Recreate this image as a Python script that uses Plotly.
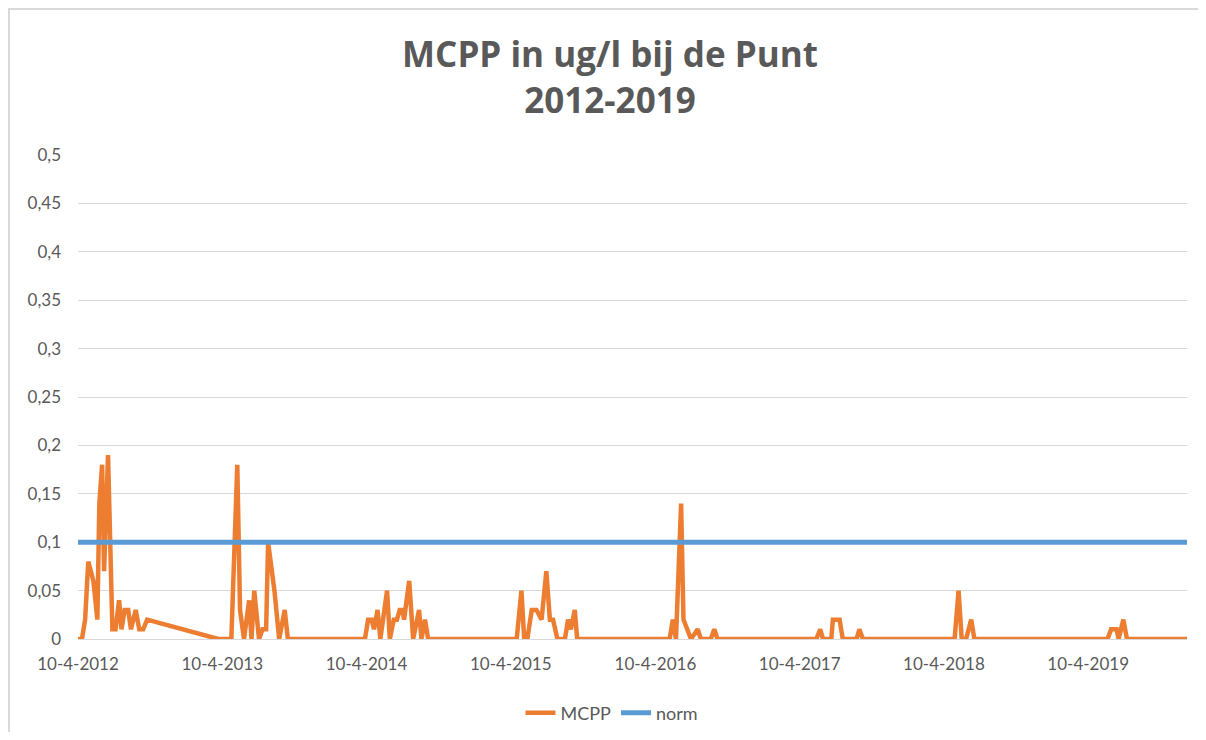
import plotly.graph_objects as go

# MCPP measurements (ug/l)
mcpp_dates = [
    "2012-04-10", "2012-04-20", "2012-04-28", "2012-05-06", "2012-05-19", "2012-05-29",
    "2012-06-03", "2012-06-10", "2012-06-15", "2012-06-25", "2012-07-06", "2012-07-14",
    "2012-07-23", "2012-07-29", "2012-08-06", "2012-08-15", "2012-08-22", "2012-09-03",
    "2012-09-12", "2012-09-22", "2012-10-02",
    "2013-03-31", "2013-05-03", "2013-05-18", "2013-05-25", "2013-06-04", "2013-06-17",
    "2013-06-23", "2013-06-30", "2013-07-12", "2013-07-21", "2013-07-30", "2013-08-04",
    "2013-08-13", "2013-08-20", "2013-09-01", "2013-09-15", "2013-09-23",
    "2014-04-06", "2014-04-14", "2014-04-23", "2014-04-29", "2014-05-08", "2014-05-15",
    "2014-06-01", "2014-06-08", "2014-06-18", "2014-06-26", "2014-07-03", "2014-07-10",
    "2014-07-14", "2014-07-27", "2014-08-06", "2014-08-21", "2014-08-27", "2014-09-05",
    "2014-09-13",
    "2015-04-25", "2015-05-07", "2015-05-14", "2015-05-22", "2015-06-02", "2015-06-14",
    "2015-06-27", "2015-07-09", "2015-07-18", "2015-07-26", "2015-08-06", "2015-08-25",
    "2015-09-02", "2015-09-09", "2015-09-19", "2015-09-25",
    "2016-05-16", "2016-05-24", "2016-06-01", "2016-06-14", "2016-06-20", "2016-06-30",
    "2016-07-09", "2016-07-26", "2016-08-03", "2016-08-28", "2016-09-06", "2016-09-14",
    "2017-05-22", "2017-06-01", "2017-06-08", "2017-06-29", "2017-07-03", "2017-07-20",
    "2017-07-28", "2017-09-01", "2017-09-08", "2017-09-17",
    "2018-05-07", "2018-05-17", "2018-05-25", "2018-06-05", "2018-06-18", "2018-06-26",
    "2019-05-29", "2019-06-07", "2019-06-14", "2019-06-21", "2019-06-26", "2019-07-08",
    "2019-07-17", "2019-12-16",
]
mcpp_values = [
    0, 0, 0.02, 0.08, 0.06, 0.02,
    0.14, 0.18, 0.07, 0.19, 0.01, 0.01,
    0.04, 0.01, 0.03, 0.03, 0.01, 0.03,
    0.01, 0.01, 0.02,
    0, 0, 0.18, 0.03, 0, 0.04,
    0, 0.05, 0, 0.01, 0.01, 0.10,
    0.07, 0.05, 0, 0.03, 0,
    0, 0.02, 0.02, 0.01, 0.03, 0,
    0.05, 0, 0.02, 0.02, 0.03, 0.03,
    0.02, 0.06, 0, 0.03, 0, 0.02,
    0,
    0, 0.05, 0, 0, 0.03, 0.03,
    0.02, 0.07, 0.02, 0.02, 0, 0,
    0.02, 0.01, 0.03, 0,
    0, 0.02, 0, 0.14, 0.02, 0.01,
    0, 0.01, 0, 0, 0.01, 0,
    0, 0.01, 0, 0, 0.02, 0.02,
    0, 0, 0.01, 0,
    0, 0.05, 0, 0, 0.02, 0,
    0, 0.01, 0.01, 0.01, 0, 0.02,
    0, 0,
]

# Norm
norm_dates = ["2012-04-10", "2019-12-16"]
norm_values = [0.1, 0.1]

# Axis ticks
x_tick_dates = ["2012-04-10", "2013-04-10", "2014-04-10", "2015-04-10",
                "2016-04-10", "2017-04-10", "2018-04-10", "2019-04-10"]
x_tick_labels = ["10-4-2012", "10-4-2013", "10-4-2014", "10-4-2015",
                 "10-4-2016", "10-4-2017", "10-4-2018", "10-4-2019"]
y_tick_vals = [0, 0.05, 0.1, 0.15, 0.2, 0.25, 0.3, 0.35, 0.4, 0.45, 0.5]
y_tick_labels = ["0", "0,05", "0,1", "0,15", "0,2", "0,25", "0,3", "0,35", "0,4", "0,45", "0,5"]

fig = go.Figure()
fig.add_trace(go.Scatter(x=mcpp_dates, y=mcpp_values, mode="lines", name="MCPP",
                         line=dict(color="#ED7D31", width=4.5)))
fig.add_trace(go.Scatter(x=norm_dates, y=norm_values, mode="lines", name="norm",
                         line=dict(color="#5B9BD5", width=5)))

OFF = 8  # page body margin
W, H = 1206 - 2 * OFF, 740 - 2 * OFF
# plot area in page pixels: x 78..1187, y 155..639
ml = 78 - OFF
mt = 155 - OFF
mr = W - (1187 - OFF)
mb = H - (639 - OFF)
pw, ph = W - ml - mr, H - mt - mb

def px_to_paper_x(px):
    return (px - OFF - ml) / pw

def px_to_paper_y(py):
    return (H - mb - (py - OFF)) / ph

# chart frame: top and left edges (light grey)
fx0, fx1 = px_to_paper_x(9), px_to_paper_x(1230)
fy0, fy1 = px_to_paper_y(780), px_to_paper_y(9)
fig.add_shape(type="path", xref="paper", yref="paper",
              path=f"M {fx1},{fy1} L {fx0},{fy1} L {fx0},{fy0}",
              line=dict(color="#D9D9D9", width=2), layer="below")

fig.update_layout(
    width=W, height=H,
    margin=dict(l=ml, r=mr, t=mt, b=mb, autoexpand=False),
    paper_bgcolor="white", plot_bgcolor="white",
    title=dict(text="MCPP in ug/l bij de Punt<br>2012-2019",
               x=(610 - OFF) / W, xanchor="center", xref="container",
               y=1 - (67 - OFF) / H, yanchor="middle", yref="container",
               font=dict(family="Open Sans, Lato, sans-serif", size=35, color="#595959", weight="bold")),
    font=dict(family="Lato, Roboto, sans-serif", size=17, color="#595959"),
    showlegend=True,
    legend=dict(orientation="h", x=px_to_paper_x(612), xanchor="center",
                y=px_to_paper_y(713), yanchor="middle",
                font=dict(size=18, color="#595959")),
    xaxis=dict(type="date", range=["2012-04-10", "2019-12-16"],
               tickvals=x_tick_dates, ticktext=x_tick_labels,
               showgrid=False, zeroline=False, showline=True, linecolor="#D9D9D9", linewidth=1,
               ticks="", ticklabelstandoff=10, tickfont=dict(size=17, color="#595959")),
    yaxis=dict(range=[0, 0.5], tickvals=y_tick_vals, ticktext=y_tick_labels,
               showgrid=True, gridcolor="#D9D9D9", gridwidth=1, zeroline=False,
               ticks="", ticklabelstandoff=16, tickfont=dict(size=17, color="#595959")),
)

fig.write_html("out.html")
